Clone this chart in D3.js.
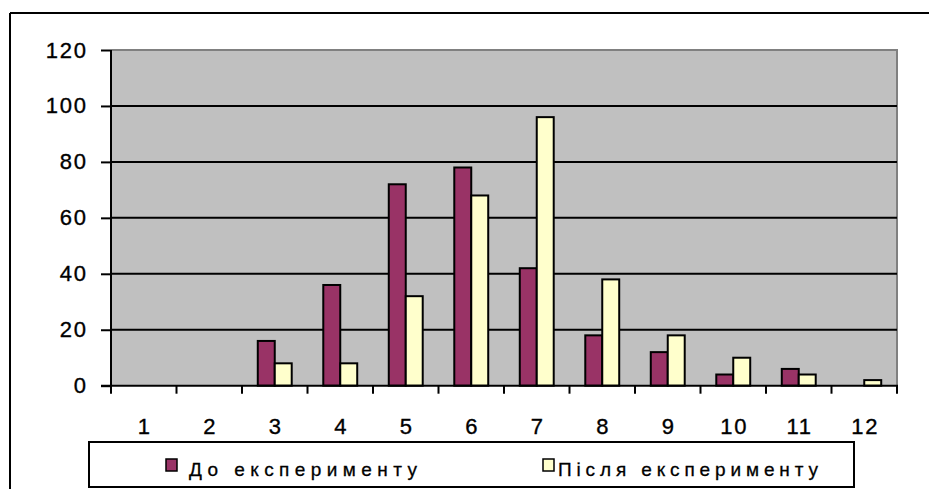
<!DOCTYPE html>
<html>
<head>
<meta charset="utf-8">
<script src="https://cdn.jsdelivr.net/npm/d3@7"></script>
<style>
  html, body { margin: 0; padding: 0; background: #ffffff; }
  svg { display: block; }
  text { font-family: "Liberation Sans", Arial, sans-serif; fill: #000; }
</style>
</head>
<body>
<svg id="chart" width="929" height="489"></svg>
<script>
// Grades 1..12 and the number of pupils with each grade, before and after the experiment
const categories = ["1", "2", "3", "4", "5", "6", "7", "8", "9", "10", "11", "12"];
const beforeValues = [0, 0, 16, 36, 72, 78, 42, 18, 12, 4, 6, 0];
const afterValues  = [0, 0, 8, 8, 32, 68, 96, 38, 18, 10, 4, 2];
const yTicks = [0, 20, 40, 60, 80, 100, 120];
const seriesNames = ["До експерименту", "Після експерименту"];
const seriesColors = ["#993366", "#FFFFCC"];

const series = [beforeValues, afterValues];

const svg = d3.select("#chart");

// Outer chart frame (top and left edges)
svg.append("line").attr("x1", 10).attr("y1", 13).attr("x2", 929).attr("y2", 13)
  .attr("stroke", "#000").attr("stroke-width", 2);
svg.append("line").attr("x1", 10).attr("y1", 13).attr("x2", 10).attr("y2", 489)
  .attr("stroke", "#000").attr("stroke-width", 2);

const plot = { left: 111, right: 897, top: 50, bottom: 385.7 };

const x = d3.scaleBand().domain(categories).range([plot.left, plot.right]).padding(0);
const xInner = d3.scaleBand().domain(d3.range(series.length))
  .range([0, x.bandwidth()]).paddingInner(0).paddingOuter(0.93);
const y = d3.scaleLinear().domain([0, 120]).range([plot.bottom, plot.top]);

// Plot area background
svg.append("rect")
  .attr("x", plot.left).attr("y", plot.top)
  .attr("width", plot.right - plot.left).attr("height", plot.bottom - plot.top)
  .attr("fill", "#C0C0C0");

// Grey top and right border of the plot area
svg.append("path")
  .attr("d", `M${plot.left},${y(120)}H${plot.right}V${plot.bottom}`)
  .attr("fill", "none").attr("stroke", "#808080").attr("stroke-width", 2);

// Horizontal gridlines
svg.append("g").selectAll("line")
  .data(yTicks.filter(t => t > 0 && t < 120))
  .join("line")
  .attr("x1", plot.left).attr("x2", plot.right)
  .attr("y1", d => y(d)).attr("y2", d => y(d))
  .attr("stroke", "#000").attr("stroke-width", 2);

// Bars
series.forEach((vals, si) => {
  svg.append("g").selectAll("rect")
    .data(categories.map((c, i) => ({ c, v: vals[i] })).filter(d => d.v > 0))
    .join("rect")
    .attr("x", d => x(d.c) + xInner(si))
    .attr("y", d => y(d.v))
    .attr("width", xInner.bandwidth())
    .attr("height", d => y(0) - y(d.v))
    .attr("fill", seriesColors[si])
    .attr("stroke", "#000")
    .attr("stroke-width", 2);
});

const labelStyle = sel => sel
  .attr("font-family", "'Liberation Sans', Arial, sans-serif")
  .attr("font-size", 22)
  .attr("letter-spacing", 1.8)
  .attr("fill", "#000")
  .attr("stroke", "#000")
  .attr("stroke-width", 0.35);

// Y axis
const yAxis = svg.append("g")
  .attr("transform", `translate(${plot.left},0)`)
  .call(d3.axisLeft(y).tickValues(yTicks).tickSize(10).tickPadding(13.2));
yAxis.select(".domain").remove();
yAxis.selectAll(".tick line").attr("stroke", "#000").attr("stroke-width", 2);
yAxis.selectAll(".tick text").call(labelStyle);

// Axis lines
svg.append("line").attr("x1", plot.left).attr("x2", plot.left)
  .attr("y1", plot.top).attr("y2", plot.bottom)
  .attr("stroke", "#000").attr("stroke-width", 2);
svg.append("line").attr("x1", plot.left - 10).attr("x2", plot.right + 1)
  .attr("y1", plot.bottom).attr("y2", plot.bottom)
  .attr("stroke", "#000").attr("stroke-width", 2);

// X axis: labels centred in each band, ticks on the band boundaries
const xAxis = svg.append("g")
  .attr("transform", `translate(0,${plot.bottom})`)
  .call(d3.axisBottom(x).tickSize(0).tickPadding(32.5));
xAxis.select(".domain").remove();
xAxis.selectAll(".tick text").call(labelStyle).attr("dx", 0.9);

const boundaries = categories.map(c => x(c)).concat([x(categories[categories.length - 1]) + x.bandwidth()]);
svg.append("g").selectAll("line")
  .data(boundaries)
  .join("line")
  .attr("x1", d => d).attr("x2", d => d)
  .attr("y1", plot.bottom).attr("y2", plot.bottom + 8)
  .attr("stroke", "#000").attr("stroke-width", 2);

// Legend
const legend = svg.append("g");
legend.append("rect")
  .attr("x", 89).attr("y", 442).attr("width", 765).attr("height", 45)
  .attr("fill", "#fff").attr("stroke", "#000").attr("stroke-width", 2);

const legendItems = [
  { sx: 166, tx: 189, len: 228 },
  { sx: 543, tx: 558, len: 260 }
];
legendItems.forEach((item, i) => {
  legend.append("rect")
    .attr("x", item.sx).attr("y", 459).attr("width", 11).attr("height", 12)
    .attr("fill", seriesColors[i]).attr("stroke", "#000").attr("stroke-width", 1.5);
  legend.append("text")
    .attr("x", item.tx).attr("y", 476)
    .attr("font-size", 19)
    .attr("stroke", "#000").attr("stroke-width", 0.3)
    .attr("textLength", item.len).attr("lengthAdjust", "spacing")
    .text(seriesNames[i]);
});
</script>
</body>
</html>
